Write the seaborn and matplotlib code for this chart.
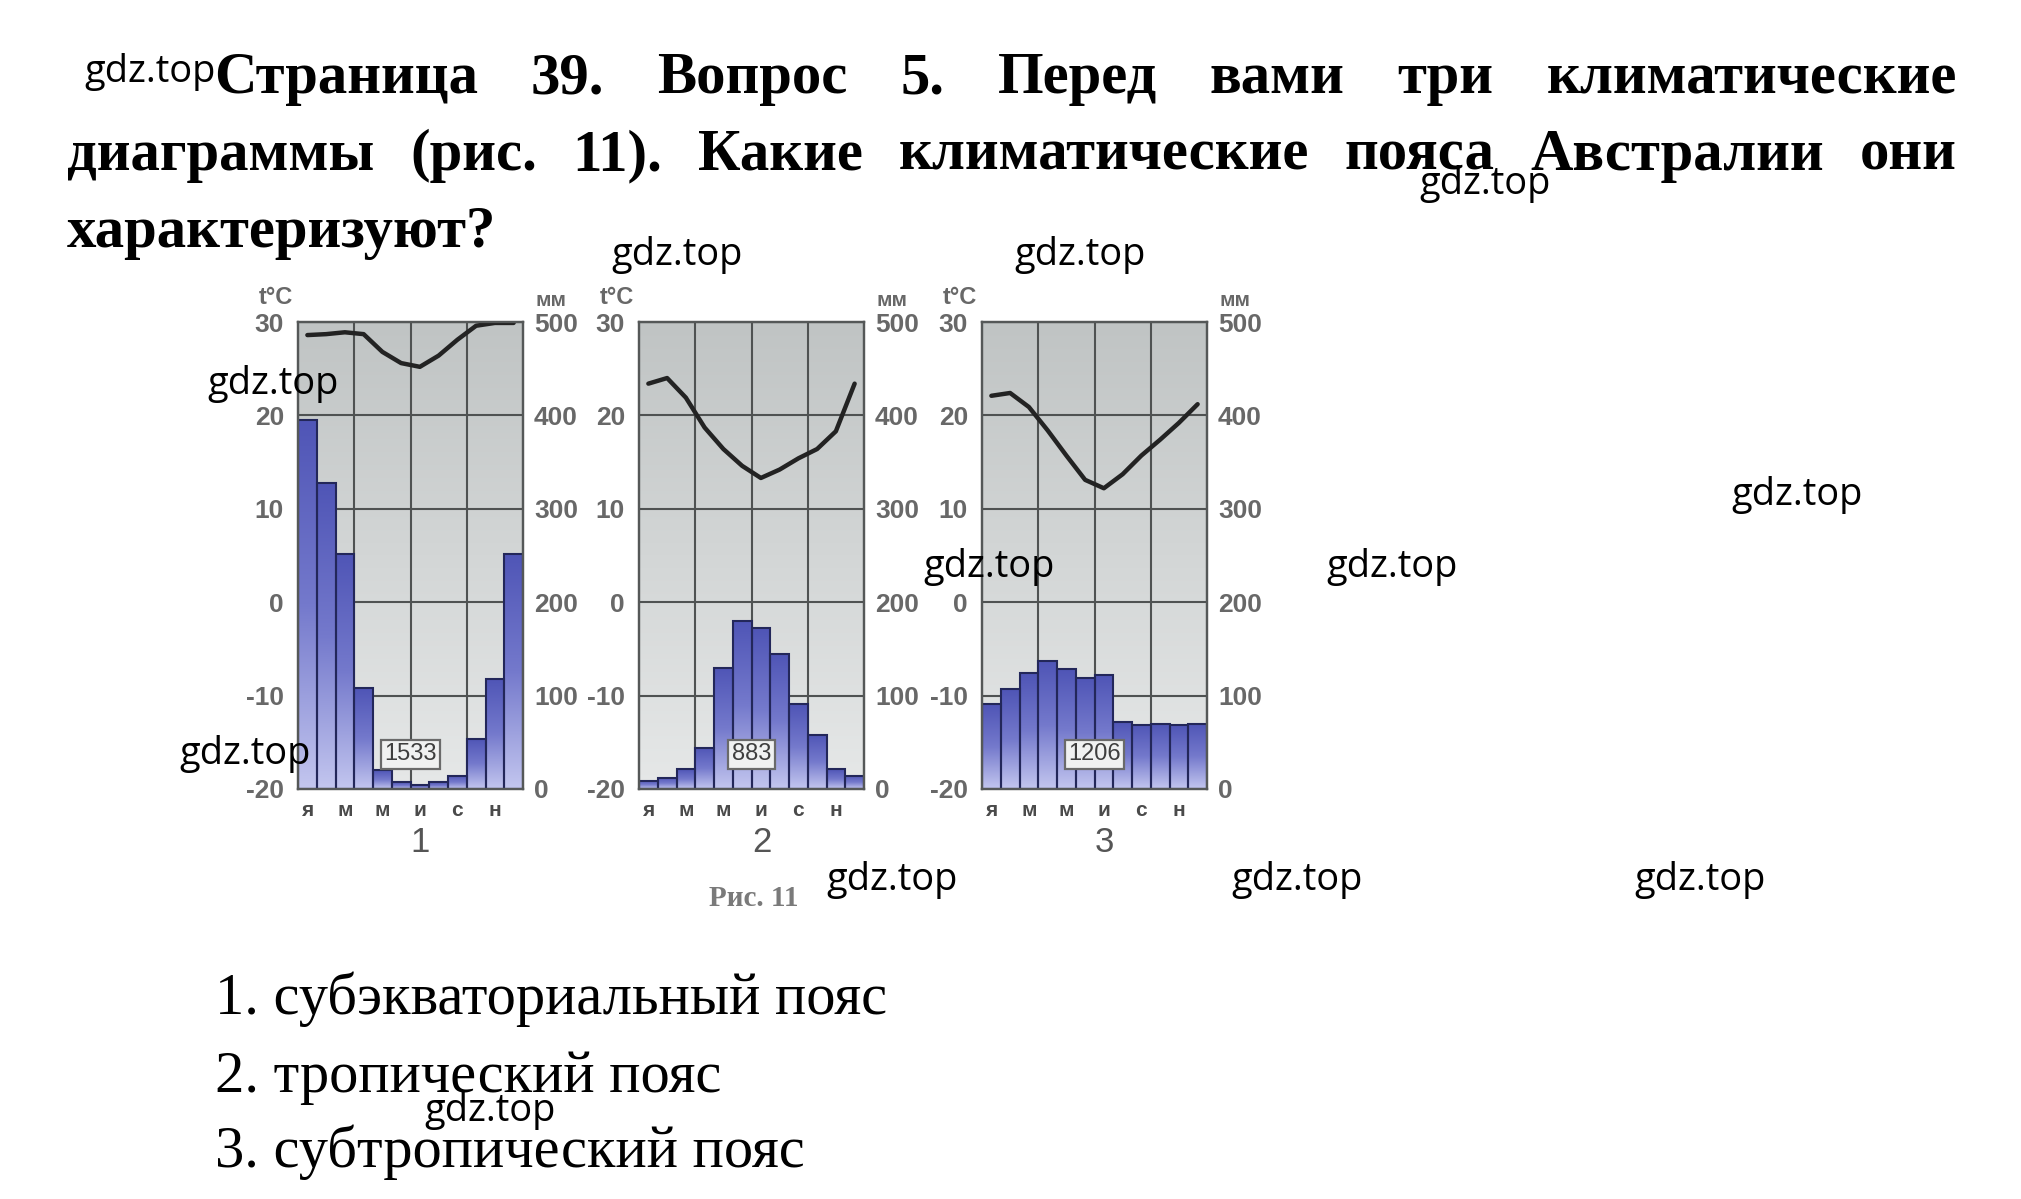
import numpy as np
import pandas as pd
import matplotlib
matplotlib.use("Agg")
import matplotlib.pyplot as plt
import seaborn as sns
from matplotlib.colors import LinearSegmentedColormap
from matplotlib import font_manager as fm

# ---------------- data ----------------
month_idx = list(range(12))
month_tick_pos = [0, 2, 4, 6, 8, 10]
month_tick_labels = ["я", "м", "м", "и", "с", "н"]

precip_1 = [395, 328, 252, 108, 20, 7, 4, 7, 14, 54, 118, 252]
temp_1 = [28.6, 28.7, 28.9, 28.7, 26.8, 25.6, 25.2, 26.4, 28.1, 29.6, 29.9, 29.9]
total_1 = "1533"

precip_2 = [9, 12, 21, 44, 130, 180, 172, 145, 91, 58, 21, 14]
temp_2 = [23.4, 24.0, 21.9, 18.7, 16.4, 14.6, 13.3, 14.2, 15.4, 16.4, 18.3, 23.4]
total_2 = "883"

precip_3 = [91, 107, 124, 137, 128, 119, 122, 72, 69, 70, 68, 70]
temp_3 = [22.1, 22.4, 20.9, 18.4, 15.7, 13.1, 12.2, 13.7, 15.7, 17.4, 19.2, 21.2]
total_3 = "1206"

temp_ticks = [-20, -10, 0, 10, 20, 30]
precip_ticks = [0, 100, 200, 300, 400, 500]
chart_numbers = ["1", "2", "3"]

title_line1 = ["Страница", "39.", "Вопрос", "5.", "Перед", "вами", "три", "климатические"]
title_line2 = ["диаграммы", "(рис.", "11).", "Какие", "климатические", "пояса", "Австралии", "они"]
title_line3 = "характеризуют?"
answers = ["1. субэкваториальный пояс", "2. тропический пояс", "3. субтропический пояс"]
fig_caption = "Рис. 11"
watermark = "gdz.top"

# ---------------- setup ----------------
sns.set_style("white")
W, H = 2021, 1199
names = {f.name for f in fm.fontManager.ttflist}
narrow = "Liberation Sans Narrow" if "Liberation Sans Narrow" in names else "Liberation Sans"
serif = "Liberation Serif"
plt.rcParams["font.family"] = ["DejaVu Sans"]

fig = plt.figure(figsize=(W / 100, H / 100), dpi=100)
fig.patch.set_facecolor("white")
renderer = fig.canvas.get_renderer()


def fx(x):
    return x / W


def fy(y):
    return 1 - y / H


def text_width(s, **kw):
    t = fig.text(0, 0, s, **kw)
    w = t.get_window_extent(renderer).width
    t.remove()
    return w


def fit_size(s, target, **kw):
    w = text_width(s, fontsize=20, **kw)
    return 20 * target / w


bg_cmap = LinearSegmentedColormap.from_list("bg", ["#c0c4c4", "#d3d6d6", "#e6e8e8"])
bar_cmap = LinearSegmentedColormap.from_list("bar", ["#4f55b6", "#7479cc", "#c3c6ef"])
grad = np.linspace(0, 1, 256).reshape(-1, 1)

grid_col = "#4f5252"
lab_col = "#686868"

charts = [
    (298, precip_1, temp_1, total_1),
    (639, precip_2, temp_2, total_2),
    (982, precip_3, temp_3, total_3),
]
ax_top, ax_bot, ax_w = 322, 789, 225

for k, (lx, prec, temp, total) in enumerate(charts):
    ax = fig.add_axes([fx(lx), fy(ax_bot), ax_w / W, (ax_bot - ax_top) / H])
    df = pd.DataFrame({"month": month_idx, "prec": prec, "temp": temp})
    sns.barplot(data=df, x="month", y="prec", ax=ax, width=1.0, color="#5a60bf",
                saturation=1, edgecolor="#23275a", linewidth=1.5, errorbar=None)
    ax.imshow(grad, cmap=bg_cmap, extent=(-0.5, 11.5, 0, 500), aspect="auto", zorder=-5)
    for p in list(ax.patches):
        x0, w0, h0 = p.get_x(), p.get_width(), p.get_height()
        if h0 <= 0:
            continue
        im = ax.imshow(grad, cmap=bar_cmap, extent=(x0, x0 + w0, 0, h0), aspect="auto", zorder=1.2)
        im.set_clip_path(p)
        p.set_facecolor("none")
        p.set_zorder(1.4)
    ax.set_xlim(-0.5, 11.5)
    ax.set_ylim(0, 500)
    ax.set_xlabel("")
    ax.set_ylabel("")
    ax.set_xticks(month_tick_pos)
    ax.set_xticklabels(month_tick_labels)
    ax.set_xticks([2.5, 5.5, 8.5], minor=True)
    ax.grid(axis="x", which="minor", color=grid_col, lw=1.5)
    ax.grid(axis="x", which="major", visible=False)
    ax.grid(axis="y", which="major", color=grid_col, lw=1.5)
    ax.set_axisbelow(True)

    tw = ax.twinx()
    sns.lineplot(data=df, x="month", y="temp", ax=tw, color="#232323", linewidth=3.2)
    tw.set_ylim(-20, 30)
    tw.set_xlim(-0.5, 11.5)
    tw.set_ylabel("")
    tw.set_xlabel("")
    tw.yaxis.tick_left()
    tw.set_yticks(temp_ticks)
    tw.set_yticklabels([str(v) for v in temp_ticks])
    tw.tick_params(axis="y", length=0, pad=10, labelsize=19, labelcolor=lab_col)
    for t in tw.get_yticklabels():
        t.set_fontweight("bold")
        t.set_fontfamily(narrow)
    tw.grid(False)

    # precipitation axis labels on the right (after twinx)
    ax.yaxis.tick_right()
    ax.set_yticks(precip_ticks)
    ax.set_yticklabels([str(v) for v in precip_ticks])
    ax.tick_params(axis="x", which="both", length=0, pad=9, labelsize=15, labelcolor="#4a4a4a")
    ax.tick_params(axis="y", which="both", length=0, pad=8, labelsize=19, labelcolor=lab_col,
                   left=False, labelleft=False, right=False, labelright=True)
    for t in ax.get_xticklabels():
        t.set_fontweight("bold")
        t.set_fontfamily(narrow)
    for t in ax.get_yticklabels():
        t.set_fontweight("bold")
        t.set_fontfamily(narrow)

    for a in (ax, tw):
        for s in a.spines.values():
            s.set_color("#555858")
            s.set_linewidth(1.6)

    # units
    fig.text(fx(lx - 22), fy(298), "t°C", ha="center", va="center", fontsize=17,
             color=lab_col, fontweight="bold", family=narrow)
    fig.text(fx(lx + ax_w + 28), fy(300), "мм", ha="center", va="center", fontsize=15,
             color=lab_col, fontweight="bold", family=narrow)
    # annual total
    ax.text(5.5, 37, total, ha="center", va="center", fontsize=17, color="#3e3e3e",
            family=narrow, zorder=5,
            bbox=dict(boxstyle="square,pad=0.15", fc="#f0f1f1", ec="#6a6a6a", lw=1.6))
    # chart number
    fig.text(fx(lx + ax_w / 2 + 10), fy(842), chart_numbers[k], ha="center", va="center",
             fontsize=25, color="#555555", family="Liberation Sans")

fig.text(fx(754), fy(898), fig_caption, ha="center", va="center", fontsize=21,
         color="#7a7a7a", fontweight="bold", family=serif)

# ---------------- title (justified) ----------------
tkw = dict(family=serif, fontweight="bold", color="black")
tsize = fit_size(title_line3, 429, **tkw)


def justify(words, x_left, x_right, base_y, size):
    widths = [text_width(w, fontsize=size, **tkw) for w in words]
    gap = (x_right - x_left - sum(widths)) / (len(words) - 1)
    x = x_left
    for w, wd in zip(words, widths):
        fig.text(fx(x), fy(base_y), w, ha="left", va="baseline", fontsize=size, **tkw)
        x += wd + gap


justify(title_line1, 214, 1957, 93, tsize)
justify(title_line2, 67, 1957, 170, tsize)
fig.text(fx(67), fy(247), title_line3, ha="left", va="baseline", fontsize=tsize, **tkw)

# ---------------- answers ----------------
akw = dict(family=serif, color="black")
asize = fit_size(answers[0], 674, **akw)
for s, by in zip(answers, [1014, 1092, 1167]):
    fig.text(fx(215), fy(by), s, ha="left", va="baseline", fontsize=asize, **akw)

# ---------------- watermarks ----------------
wkw = dict(family="Open Sans", color="black")
wsize = fit_size(watermark, 131, **wkw)
wm_pos = [(150, 72), (1485, 184), (677, 255), (1080, 255), (273, 384), (1797, 495),
          (989, 567), (1392, 567), (245, 754), (892, 880), (1297, 880), (1700, 880),
          (490, 1111)]
for (x, y) in wm_pos:
    fig.text(fx(x), fy(y), watermark, ha="center", va="center", fontsize=wsize, zorder=10, **wkw)

fig.savefig("out.png", dpi=100, facecolor="white")
